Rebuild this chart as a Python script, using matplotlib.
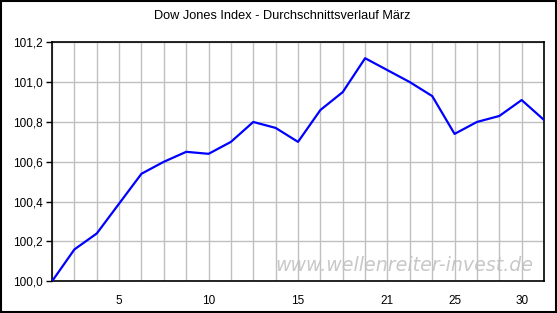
import matplotlib
matplotlib.use('Agg')
import matplotlib.pyplot as plt
from matplotlib.patches import Rectangle

# average course of the Dow Jones in March, one value per trading day
values = [100.00, 100.16, 100.24, 100.39, 100.54, 100.60, 100.65, 100.64,
          100.70, 100.80, 100.77, 100.70, 100.86, 100.95, 101.12, 101.06,
          101.00, 100.93, 100.74, 100.80, 100.83, 100.91, 100.81]
tick_days = [3, 7, 11, 15, 18, 21]
tick_labels = ['5', '10', '15', '21', '25', '30']
y_ticks = [100.0, 100.2, 100.4, 100.6, 100.8, 101.0, 101.2]
y_labels = ['100,0', '100,2', '100,4', '100,6', '100,8', '101,0', '101,2']

plt.rcParams['font.family'] = ['Liberation Sans', 'DejaVu Sans']

fig = plt.figure(figsize=(5.57, 3.13), dpi=100)
ax = fig.add_axes([0.0934, 0.1013, 0.8833, 0.7636])

x = list(range(len(values)))
ax.plot(x, values, color='#0000ff', lw=1.6, zorder=3)

ax.set_xlim(0, len(values) - 1)
ax.set_ylim(100.0, 101.2)
ax.set_xticks(x, minor=True)
ax.set_xticks(tick_days)
ax.set_xticklabels(tick_labels, fontsize=8.5)
ax.set_yticks(y_ticks)
ax.set_yticklabels(y_labels, fontsize=8.5)
ax.grid(True, which='both', axis='x', color='#c0c0c0', lw=1)
ax.grid(True, which='major', axis='y', color='#c0c0c0', lw=1)
ax.tick_params(axis='x', which='both', length=0, pad=10)
ax.tick_params(axis='y', length=4, width=1, pad=3)
for s in ax.spines.values():
    s.set_linewidth(1.2)
    s.set_color('black')

ax.text(0.978, 0.045, 'www.wellenreiter-invest.de', transform=ax.transAxes,
        ha='right', va='baseline', fontsize=13.7, style='italic', color='#c8c8c8',
        family='DejaVu Sans', zorder=1)

fig.text(0.506, 0.948, 'Dow Jones Index - Durchschnittsverlauf März',
         ha='center', va='center', fontsize=9.2)

fig.patches.append(Rectangle((0.001, 0.002), 0.997, 0.995, transform=fig.transFigure,
                             fill=False, edgecolor='black', lw=1.5))

fig.savefig('out.png', dpi=100)
